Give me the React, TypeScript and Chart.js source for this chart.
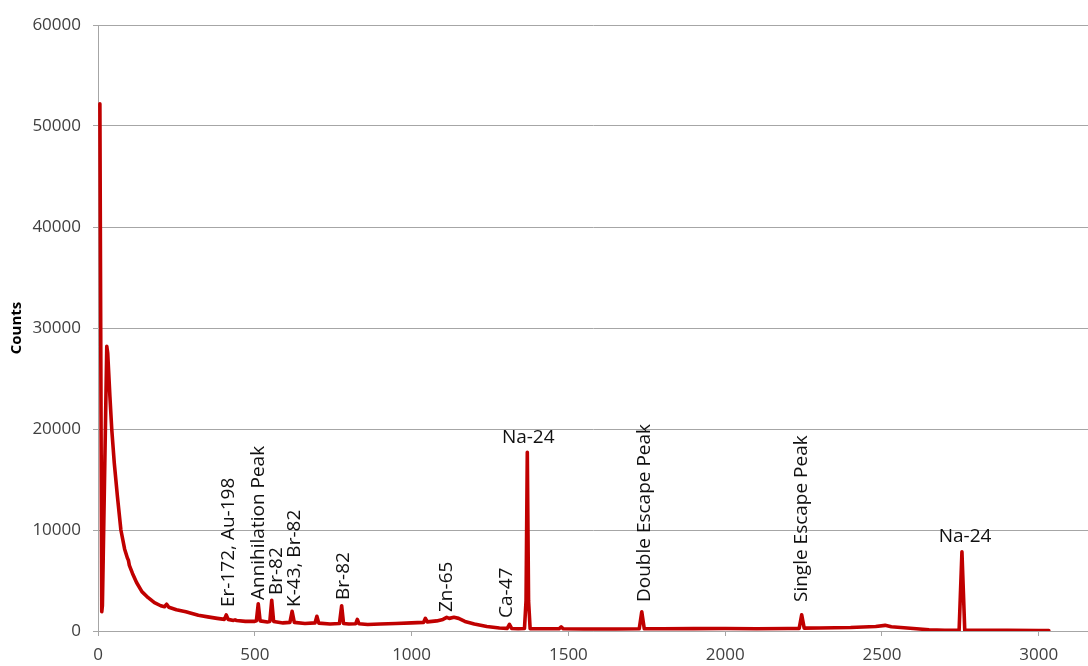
import React, { useEffect, useRef } from "react";
import { Chart, registerables } from "chart.js";

Chart.register(...registerables);

// Gamma spectrum (energy channel, counts)
const energies = [
  6, 12, 14, 28, 31, 38, 44, 52, 62, 73, 85, 94, 97, 100, 110, 123, 140, 160, 180, 200,
  212, 219, 226, 250, 280, 320, 350, 380, 403, 409, 415, 432, 437, 442, 470, 500, 505, 511,
  517, 540, 548, 554, 560, 590, 612, 619, 626, 660, 692, 698, 704, 740, 770, 777, 783, 800,
  822, 827, 832, 860, 900, 950, 1000, 1038, 1044, 1050, 1080, 1100, 1112, 1120, 1135, 1150,
  1170, 1200, 1240, 1280, 1305, 1312, 1319, 1340, 1360, 1365, 1369, 1373, 1378, 1420, 1470,
  1477, 1484, 1550, 1650, 1726, 1734, 1742, 1800, 1900, 2000, 2100, 2200, 2236, 2244, 2252,
  2300, 2400, 2480, 2510, 2530, 2600, 2650, 2700, 2746, 2755, 2764, 2800, 2900, 3000, 3032,
];
const counts = [
  52200, 1900, 2500, 28200, 27500, 23200, 19900, 16600, 13300, 10000, 8100, 7200, 7000, 6500,
  5700, 4800, 3900, 3300, 2800, 2500, 2400, 2650, 2350, 2100, 1900, 1550, 1400, 1250, 1150,
  1600, 1150, 1050, 1100, 1040, 950, 950, 1000, 2700, 1000, 900, 950, 3050, 950, 800, 850,
  1950, 850, 750, 800, 1450, 780, 700, 750, 2500, 750, 700, 720, 1150, 720, 650, 700, 750,
  800, 850, 1250, 900, 1000, 1150, 1350, 1250, 1350, 1250, 950, 700, 450, 300, 260, 650, 250,
  230, 250, 3000, 17700, 3000, 230, 220, 220, 400, 220, 200, 200, 230, 1900, 230, 220, 240,
  250, 230, 250, 260, 1600, 280, 300, 350, 450, 560, 420, 250, 120, 80, 80, 7850, 80, 70, 60,
  50, 40,
];

const xTickValues = [0, 500, 1000, 1500, 2000, 2500, 3000];
const yTickValues = [0, 10000, 20000, 30000, 40000, 50000, 60000];
const xMax = 3157;
const yMax = 60000;

// Peak annotations: text, energy anchor, counts anchor, vertical?
const labelTexts = [
  "Er-172, Au-198",
  "Annihilation Peak",
  "Br-82",
  "K-43, Br-82",
  "Br-82",
  "Zn-65",
  "Ca-47",
  "Na-24",
  "Double Escape Peak",
  "Single Escape Peak",
  "Na-24",
];
const labelEnergies = [415, 511, 570, 628, 782, 1112, 1303, 1372, 1744, 2244, 2765];
const labelCounts = [2380, 3070, 3560, 2380, 3070, 1880, 1290, 19100, 2870, 2870, 9300];
const labelVertical = [true, true, true, true, true, true, true, false, true, true, false];

const FONT = '"Open Sans", "Liberation Sans", sans-serif';

const annotationPlugin = {
  id: "peakLabels",
  afterDatasetsDraw(chart: any) {
    const { ctx, scales } = chart;
    ctx.save();
    ctx.font = `19px ${FONT}`;
    ctx.fillStyle = "#111111";
    labelTexts.forEach((t, i) => {
      const px = scales.x.getPixelForValue(labelEnergies[i]);
      const py = scales.y.getPixelForValue(labelCounts[i]);
      if (labelVertical[i]) {
        ctx.save();
        ctx.translate(px, py);
        ctx.rotate(-Math.PI / 2);
        ctx.textAlign = "left";
        ctx.textBaseline = "middle";
        ctx.fillText(t, 0, 0);
        ctx.restore();
      } else {
        ctx.textAlign = "center";
        ctx.textBaseline = "middle";
        ctx.fillText(t, px, py);
      }
    });
    ctx.restore();
  },
};

export default function App() {
  const ref = useRef<HTMLCanvasElement>(null);
  useEffect(() => {
    if (!ref.current) return;
    const data = energies.map((e, i) => ({ x: e, y: counts[i] }));
    const grid = "#a6a6a6";
    const chart = new Chart(ref.current, {
      type: "line",
      data: {
        datasets: [
          {
            data,
            borderColor: "#C00000",
            borderWidth: 3.6,
            pointRadius: 0,
            tension: 0,
            borderJoinStyle: "round",
            borderCapStyle: "round",
            fill: false,
          },
        ],
      },
      options: {
        animation: false,
        responsive: false,
        devicePixelRatio: 1,
        layout: { padding: { top: 25, right: 0, left: 0, bottom: 0 } },
        plugins: { legend: { display: false }, tooltip: { enabled: false } },
        scales: {
          x: {
            type: "linear",
            min: 0,
            max: xMax,
            afterBuildTicks: (s: any) => {
              s.ticks = xTickValues.map((v) => ({ value: v }));
            },
            afterFit: (s: any) => {
              s.height = 35;
            },
            ticks: {
              font: { family: FONT, size: 17 },
              color: "#404040",
              padding: 9,
              maxRotation: 0,
              autoSkip: false,
              callback: (v: any) => String(v),
            },
            grid: { drawOnChartArea: false, drawTicks: true, tickLength: 5, color: grid },
            border: { color: grid },
          },
          y: {
            min: 0,
            max: yMax,
            afterBuildTicks: (s: any) => {
              s.ticks = yTickValues.map((v) => ({ value: v }));
            },
            afterFit: (s: any) => {
              s.width = 98;
            },
            ticks: {
              font: { family: FONT, size: 17 },
              color: "#404040",
              padding: 12,
              autoSkip: false,
              callback: (v: any) => String(v),
            },
            grid: { color: grid, tickLength: 5 },
            border: { color: grid },
            title: {
              display: true,
              text: "Counts",
              font: { family: FONT, size: 15, weight: "bold" },
              color: "#000000",
              padding: { top: 8, bottom: 0 },
            },
          },
        },
      },
      plugins: [annotationPlugin],
    });
    return () => chart.destroy();
  }, []);
  return (
    <div style={{ position: "fixed", left: 0, top: 0, width: 1088, height: 666, background: "#fff" }}>
      <canvas ref={ref} width={1088} height={666} />
    </div>
  );
}
